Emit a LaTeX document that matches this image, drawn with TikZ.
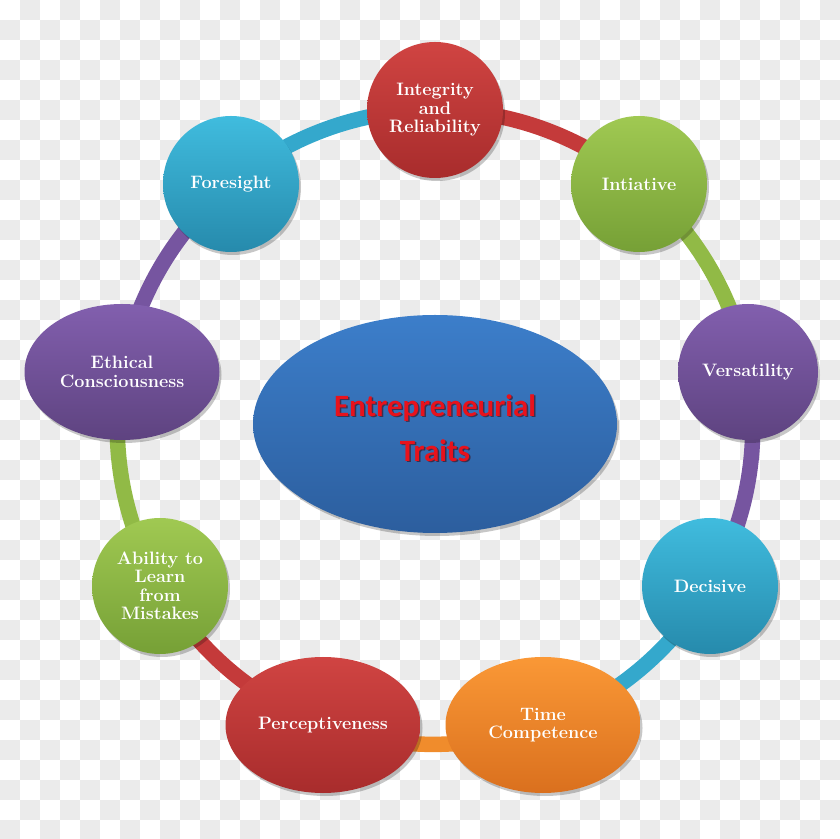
\documentclass[tikz,border=0pt]{standalone}
\usepackage{fontspec}
\newfontfamily\calibrifont{Carlito}
\usetikzlibrary{shapes.geometric,shadows}
\pgfdeclarelayer{bgA}
\pgfdeclarelayer{bgB}
\pgfsetlayers{bgA,bgB,main}
\definecolor{chk}{RGB}{235,235,235}
\definecolor{redT}{RGB}{208,68,66}\definecolor{redB}{RGB}{168,44,44}\definecolor{redR}{RGB}{196,58,58}
\definecolor{grnT}{RGB}{160,201,82}\definecolor{grnB}{RGB}{118,160,54}\definecolor{grnR}{RGB}{145,186,70}
\definecolor{purT}{RGB}{130,95,174}\definecolor{purB}{RGB}{94,67,128}\definecolor{purR}{RGB}{118,85,160}
\definecolor{cyaT}{RGB}{64,188,222}\definecolor{cyaB}{RGB}{38,138,172}\definecolor{cyaR}{RGB}{52,168,204}
\definecolor{ornT}{RGB}{250,152,54}\definecolor{ornB}{RGB}{218,112,30}\definecolor{ornR}{RGB}{240,140,44}
\definecolor{bluT}{RGB}{60,126,202}\definecolor{bluB}{RGB}{44,94,158}
\definecolor{titleRed}{RGB}{232,18,28}
\tikzset{
  softshadow/.style={drop shadow={shadow xshift=2pt, shadow yshift=-3pt, opacity=0.22, fill=black}},
  trait/.style={ellipse, inner sep=0pt, minimum height=136pt, text=white, align=center,
    font=\fontsize{18}{18.5}\selectfont\bfseries, softshadow},
  roundtrait/.style={trait, minimum width=136pt},
  widetrait/.style={trait, minimum width=195pt},
  redfill/.style={top color=redT, bottom color=redB},
  grnfill/.style={top color=grnT, bottom color=grnB},
  purfill/.style={top color=purT, bottom color=purB},
  cyafill/.style={top color=cyaT, bottom color=cyaB},
  ornfill/.style={top color=ornT, bottom color=ornB},
  ringseg/.style={line width=15.5pt, bend left=20, looseness=0.88},
  titlefont/.style={font=\calibrifont\bfseries\fontsize{31}{45}\selectfont, align=center},
}
\begin{document}
\begin{tikzpicture}[x=1pt,y=1pt]
\useasboundingbox (0,0) rectangle (840,838);
\begin{pgfonlayer}{bgA}
  \begin{scope}
    \clip (0,0) rectangle (840,838);
    \fill[white] (0,0) rectangle (840,838);
    \foreach \i in {0,...,41} {
      \foreach \j in {0,...,41} {
        \pgfmathtruncatemacro\chkodd{mod(\i+\j,2)}
        \ifnum\chkodd=1 \fill[chk] (\i*20,838-\j*20) rectangle ++(20,-20); \fi
      }
    }
  \end{scope}
\end{pgfonlayer}

% nodes
\node[roundtrait, redfill] (integ) at (435,728) {Integrity\\and\\Reliability};
\node[roundtrait, grnfill] (initi) at (639,654) {Intiative};
\node[trait, minimum width=140pt, purfill] (versa) at (748,466) {Versatility};
\node[roundtrait, cyafill] (decis) at (710,252) {Decisive};
\node[widetrait, ornfill] (timec) at (543,113) {Time\\Competence};
\node[widetrait, redfill] (perce) at (323,113) {Perceptiveness};
\node[roundtrait, grnfill] (abili) at (160,252) {Ability to\\Learn\\from\\Mistakes};
\node[widetrait, purfill] (ethic) at (122,466) {Ethical\\Consciousness};
\node[roundtrait, cyafill] (fores) at (231,654) {Foresight};

% center
\node[ellipse, minimum width=364pt, minimum height=218pt, inner sep=0pt,
      top color=bluT, bottom color=bluB, softshadow] (centre) at (435,414) {};
\node[titlefont, text=black!75!red, opacity=0.55] (titleshadow) at (436.5,408.5) {Entrepreneurial\\Traits};
\node[titlefont, text=titleRed] (title) at (435,410) {Entrepreneurial\\Traits};

% ring
\begin{pgfonlayer}{bgB}
  \draw[ringseg, cyaR] (fores.center) to (integ.center);
  \draw[ringseg, redR] (integ.center) to (initi.center);
  \draw[ringseg, grnR] (initi.center) to (versa.center);
  \draw[ringseg, purR] (versa.center) to (decis.center);
  \draw[ringseg, cyaR] (decis.center) to (timec.center);
  \draw[ringseg, ornR] (timec.center) to (perce.center);
  \draw[ringseg, redR] (perce.center) to (abili.center);
  \draw[ringseg, grnR] (abili.center) to (ethic.center);
  \draw[ringseg, purR] (ethic.center) to (fores.center);
\end{pgfonlayer}
\end{tikzpicture}
\end{document}
